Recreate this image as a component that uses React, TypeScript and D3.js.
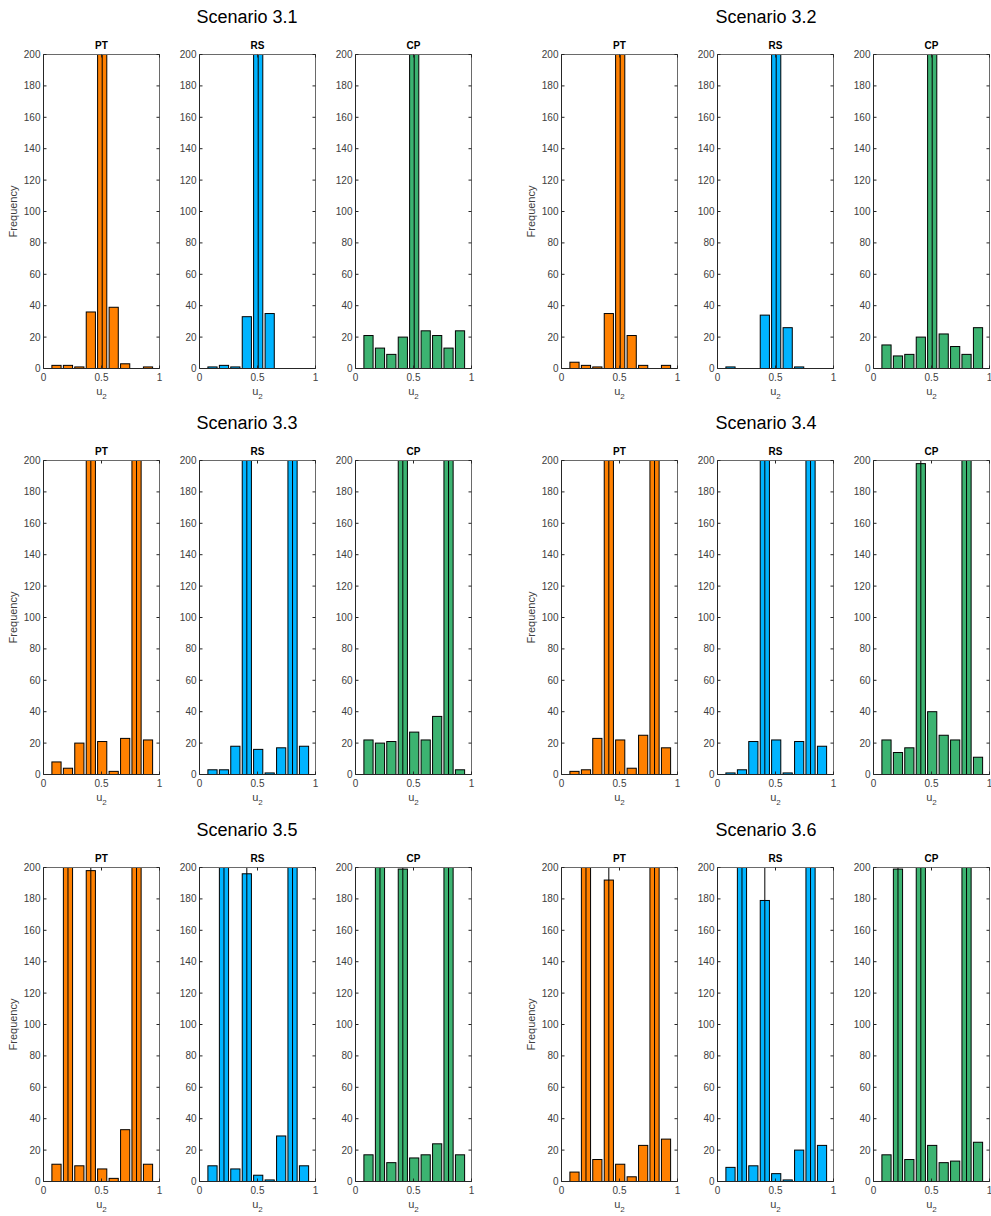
import React from "react";
import * as d3 from "d3";

// Histogram bin centres on the u2 axis
const binCenters = [0.112, 0.211, 0.309, 0.408, 0.506, 0.605, 0.704, 0.802, 0.901];

const methods = ["PT", "RS", "CP"];
const methodColors = ["#FF8000", "#00B4FF", "#3CB371"];

const scenarioTitles = [
  "Scenario 3.1",
  "Scenario 3.2",
  "Scenario 3.3",
  "Scenario 3.4",
  "Scenario 3.5",
  "Scenario 3.6",
];

// Frequencies per bin (tall bins run past the 200 limit and are clipped)
const pt31 = [2, 2, 1, 36, 416, 39, 3, 0, 1];
const rs31 = [1, 2, 1, 33, 428, 35, 0, 0, 0];
const cp31 = [21, 13, 9, 20, 355, 24, 21, 13, 24];

const pt32 = [4, 2, 1, 35, 433, 21, 2, 0, 2];
const rs32 = [1, 0, 0, 34, 438, 26, 1, 0, 0];
const cp32 = [15, 8, 9, 20, 377, 22, 14, 9, 26];

const pt33 = [8, 4, 20, 205, 21, 2, 23, 212, 22];
const rs33 = [3, 3, 18, 210, 16, 1, 17, 214, 18];
const cp33 = [22, 20, 21, 206, 27, 22, 37, 212, 3];

const pt34 = [2, 3, 23, 208, 22, 4, 25, 213, 17];
const rs34 = [1, 3, 21, 211, 22, 1, 21, 217, 18];
const cp34 = [22, 14, 17, 198, 40, 25, 22, 231, 11];

const pt35 = [11, 215, 10, 198, 8, 2, 33, 222, 11];
const rs35 = [10, 219, 8, 196, 4, 1, 29, 223, 10];
const cp35 = [17, 211, 12, 199, 15, 17, 24, 225, 17];

const pt36 = [6, 221, 14, 192, 11, 3, 23, 215, 27];
const rs36 = [9, 232, 10, 179, 5, 1, 20, 221, 23];
const cp36 = [17, 199, 14, 207, 23, 12, 13, 218, 25];

// Reference positions marked with a vertical line in each scenario
const marks31 = [0.506];
const marks32 = [0.506];
const marks33 = [0.408, 0.802];
const marks34 = [0.408, 0.802];
const marks35 = [0.211, 0.408, 0.802];
const marks36 = [0.211, 0.408, 0.802];

const scenarioCounts = [
  [pt31, rs31, cp31],
  [pt32, rs32, cp32],
  [pt33, rs33, cp33],
  [pt34, rs34, cp34],
  [pt35, rs35, cp35],
  [pt36, rs36, cp36],
];
const scenarioMarks = [marks31, marks32, marks33, marks34, marks35, marks36];

const xTickValues = [0, 0.5, 1];
const yMax = 200;

// Layout
const W = 991;
const H = 1216;
const panelW = 116;
const panelH = 314;
const panelLeft = [43, 199, 355];
const groupShift = 518;
const rowTops = [54, 460, 867];
const titleCenters = [247, 766];

const FONT = "'Liberation Sans', Arial, Helvetica, sans-serif";
const AXIS = "#262626";
const LABEL = "#404040";

function Panel({
  px,
  py,
  counts,
  color,
  name,
  marks,
  showYLabel,
  clipId,
}: {
  px: number;
  py: number;
  counts: number[];
  color: string;
  name: string;
  marks: number[];
  showYLabel: boolean;
  clipId: string;
}) {
  const x = d3.scaleLinear().domain([0, 1]).range([0, panelW]);
  const y = d3.scaleLinear().domain([0, yMax]).range([panelH, 0]);
  const spacing = binCenters[1] - binCenters[0];
  const bw = spacing * 0.8;
  const yTicks = y.ticks(10);
  const tl = 3;
  const fmt = d3.format("~g");

  return (
    <g transform={`translate(${px + 0.5},${py + 0.5})`}>
      <defs>
        <clipPath id={clipId}>
          <rect x={0} y={0} width={panelW} height={panelH} />
        </clipPath>
      </defs>
      <g clipPath={`url(#${clipId})`}>
        {counts.map((c, i) => {
          const x0 = x(binCenters[i] - bw / 2);
          const x1 = x(binCenters[i] + bw / 2);
          const top = y(Math.min(c, yMax + 5));
          return (
            <rect
              key={i}
              x={x0}
              y={top}
              width={x1 - x0}
              height={y(0) - top}
              fill={color}
              stroke="#000"
              strokeWidth={1}
            />
          );
        })}
        {marks.map((m, i) => (
          <line
            key={`m${i}`}
            x1={x(m)}
            x2={x(m)}
            y1={y(0)}
            y2={y(yMax)}
            stroke="#000"
            strokeWidth={1}
          />
        ))}
      </g>
      {/* axes box */}
      <line x1={0} x2={panelW} y1={0} y2={0} stroke="#6a6a6a" strokeWidth={1} />
      <line x1={panelW} x2={panelW} y1={0} y2={panelH} stroke="#6a6a6a" strokeWidth={1} />
      <line x1={0} x2={0} y1={0} y2={panelH} stroke={AXIS} strokeWidth={1} />
      <line x1={0} x2={panelW} y1={panelH} y2={panelH} stroke={AXIS} strokeWidth={1} />
      {yTicks.map((t) => (
        <g key={`y${t}`}>
          <line x1={0} x2={tl} y1={y(t)} y2={y(t)} stroke={AXIS} />
          <line x1={panelW - tl} x2={panelW} y1={y(t)} y2={y(t)} stroke={AXIS} />
          <text
            x={-3}
            y={y(t)}
            dy="0.35em"
            textAnchor="end"
            fontSize={10}
            fill={LABEL}
            fontFamily={FONT}
          >
            {fmt(t)}
          </text>
        </g>
      ))}
      {xTickValues.map((t) => (
        <g key={`x${t}`}>
          <line x1={x(t)} x2={x(t)} y1={panelH} y2={panelH - tl} stroke={AXIS} />
          <line x1={x(t)} x2={x(t)} y1={0} y2={tl} stroke={AXIS} />
          <text
            x={x(t)}
            y={panelH + 12}
            textAnchor="middle"
            fontSize={10}
            fill={LABEL}
            fontFamily={FONT}
          >
            {fmt(t)}
          </text>
        </g>
      ))}
      <text
        x={panelW / 2}
        y={panelH + 26}
        textAnchor="middle"
        fontSize={11}
        fill={LABEL}
        fontFamily={FONT}
      >
        u
        <tspan fontSize={8} dy={4}>
          2
        </tspan>
      </text>
      <text
        x={panelW / 2}
        y={-6}
        textAnchor="middle"
        fontSize={10}
        fontWeight="bold"
        fill="#000"
        fontFamily={FONT}
      >
        {name}
      </text>
      {showYLabel && (
        <text
          transform={`translate(${-27},${panelH / 2}) rotate(-90)`}
          textAnchor="middle"
          fontSize={11}
          fill={LABEL}
          fontFamily={FONT}
        >
          Frequency
        </text>
      )}
    </g>
  );
}

export default function App() {
  return (
    <svg
      width={W}
      height={H}
      style={{ position: "absolute", left: 0, top: 0, background: "#fff" }}
    >
      <rect x={0} y={0} width={W} height={H} fill="#fff" />
      {scenarioTitles.map((title, si) => {
        const col = si % 2;
        const row = Math.floor(si / 2);
        const top = rowTops[row];
        return (
          <g key={title}>
            <text
              x={titleCenters[col]}
              y={top - 31}
              textAnchor="middle"
              fontSize={18}
              fill="#000"
              fontFamily={FONT}
            >
              {title}
            </text>
            {methods.map((m, mi) => (
              <Panel
                key={m}
                px={panelLeft[mi] + col * groupShift}
                py={top}
                counts={scenarioCounts[si][mi]}
                color={methodColors[mi]}
                name={m}
                marks={scenarioMarks[si]}
                showYLabel={mi === 0}
                clipId={`clip-${si}-${mi}`}
              />
            ))}
          </g>
        );
      })}
    </svg>
  );
}
